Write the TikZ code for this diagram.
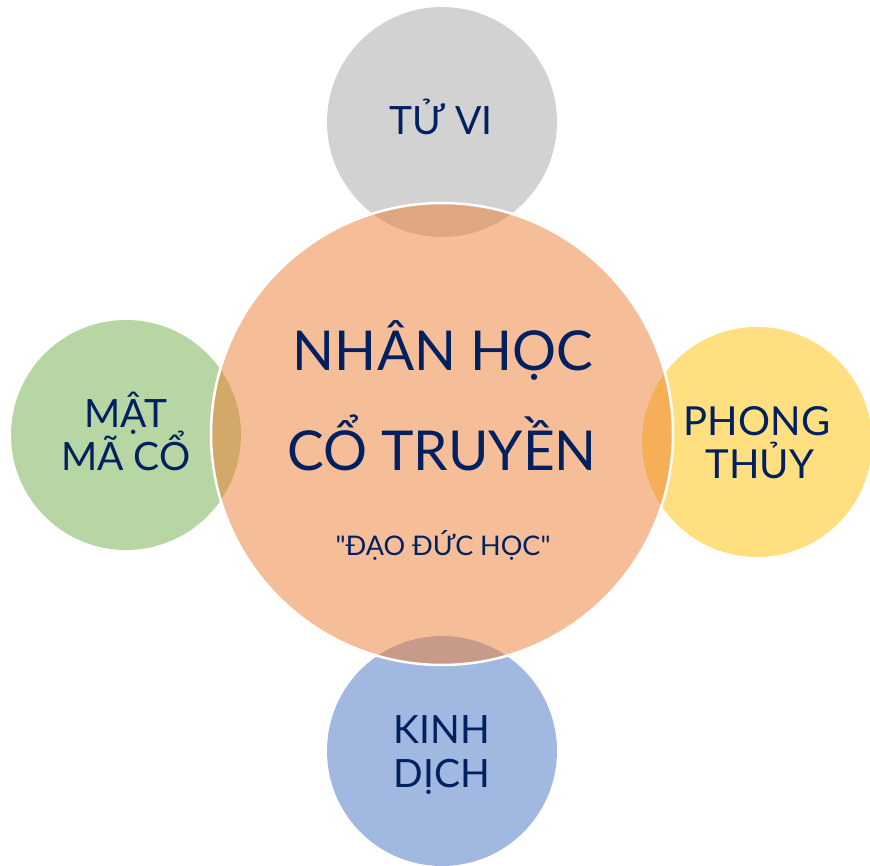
\documentclass[tikz,border=0pt]{standalone}
\usepackage{fontspec}
\setmainfont{Lato}[Ligatures=TeXOff]
\definecolor{txtblue}{HTML}{002060}
\definecolor{corange}{HTML}{ED7D31}
\definecolor{cgray}{HTML}{A5A5A5}
\definecolor{cgreen}{HTML}{70AD47}
\definecolor{cyellow}{HTML}{FFC000}
\definecolor{cblue}{HTML}{4472C4}
\tikzset{
  small/.style={circle, minimum size=230pt, inner sep=0pt, fill opacity=0.5},
  big/.style={circle, minimum size=462pt, inner sep=0pt, fill=corange, fill opacity=0.5, draw=white, draw opacity=1, line width=2.5pt},
  lbl/.style={anchor=base, inner sep=0pt, text=txtblue, text opacity=1},
}
\begin{document}
\begin{tikzpicture}[x=1pt,y=-1pt]
\useasboundingbox (0,0) rectangle (870,866);
\node[small, fill=cgray]   (top)    at (442,122) {};
\node[small, fill=cblue]   (bottom) at (442,751) {};
\node[small, fill=cgreen]  (left)   at (126,435) {};
\node[small, fill=cyellow] (right)  at (757,442) {};
\node[big] (center) at (442,434) {};
% labels
\node[lbl, font=\fontsize{39}{39}\selectfont] (t1) at (441,135) {TỬ VI};
\node[lbl, font=\fontsize{39}{39}\selectfont] (l1) at (126,428) {MẬT};
\node[lbl, font=\fontsize{39}{39}\selectfont] (l2) at (126,470) {MÃ CỔ};
\node[lbl, font=\fontsize{40}{40}\selectfont] (r1) at (757,435) {PHONG};
\node[lbl, font=\fontsize{40}{40}\selectfont] (r2) at (760,478) {THỦY};
\node[lbl, font=\fontsize{39}{39}\selectfont] (b1) at (442,743) {KINH};
\node[lbl, font=\fontsize{39}{39}\selectfont] (b2) at (442,787) {DỊCH};
\node[lbl, font=\fontsize{55}{55}\selectfont] (c1) at (443,371) {NHÂN HỌC};
\node[lbl, font=\fontsize{55}{55}\selectfont] (c2) at (442,470) {CỔ TRUYỀN};
\node[lbl, font=\fontsize{27}{27}\selectfont] (c3) at (443,555) {"ĐẠO ĐỨC HỌC"};
\end{tikzpicture}
\end{document}
